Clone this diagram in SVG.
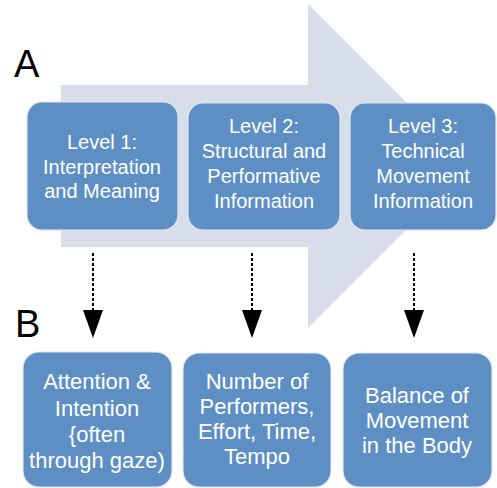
<svg xmlns="http://www.w3.org/2000/svg" width="497" height="488" viewBox="0 0 497 488">
<defs>
<style>
.box{fill:#5e8fc4;stroke:#dfe8f2;stroke-width:1.2}
.t{font-family:"Liberation Sans",Arial,sans-serif;fill:#ffffff;text-anchor:middle}
.top{font-size:20px}
.bot{font-size:22px}
.lbl{font-family:"Liberation Sans",Arial,sans-serif;font-size:38px;fill:#000}
.conn{stroke:#000;stroke-width:2;stroke-dasharray:3 2;fill:none}
</style>
<marker id="ah" viewBox="0 0 28 20" markerWidth="28" markerHeight="20" refX="0" refY="10" orient="auto" markerUnits="userSpaceOnUse">
<path d="M0 0 L28 10 L0 20 Z" fill="#000"/>
</marker>
</defs>
<rect width="497" height="488" fill="#fff"/>
<polygon id="bigarrow" points="61,85 308,85 308,4 470,166 308,328 308,247 61,247" fill="#d8dee9"/>
<text class="lbl" x="14" y="77">A</text>
<text class="lbl" x="15" y="337">B</text>
<g id="level1">
<rect class="box" x="27" y="102" width="151" height="128" rx="15"/>
<text class="t top" x="102" y="149">Level 1:</text>
<text class="t top" x="102" y="174">Interpretation</text>
<text class="t top" x="102" y="198">and Meaning</text>
</g>
<g id="level2">
<rect class="box" x="188" y="103" width="152" height="127" rx="15"/>
<text class="t top" x="264" y="133">Level 2:</text>
<text class="t top" x="264" y="158">Structural and</text>
<text class="t top" x="264" y="183">Performative</text>
<text class="t top" x="264" y="208">Information</text>
</g>
<g id="level3">
<rect class="box" x="350" y="103" width="146" height="127" rx="15"/>
<text class="t top" x="423" y="133">Level 3:</text>
<text class="t top" x="423" y="158">Technical</text>
<text class="t top" x="423" y="183">Movement</text>
<text class="t top" x="423" y="208">Information</text>
</g>
<g id="b1">
<rect class="box" x="23" y="352" width="149" height="135" rx="16"/>
<text class="t bot" x="97" y="389">Attention &amp;</text>
<text class="t bot" x="97" y="416">Intention</text>
<text class="t bot" x="97" y="442">{often</text>
<text class="t bot" x="97" y="468">through gaze)</text>
</g>
<g id="b2">
<rect class="box" x="183" y="353" width="148" height="134" rx="16"/>
<text class="t bot" x="257" y="389">Number of</text>
<text class="t bot" x="257" y="414">Performers,</text>
<text class="t bot" x="257" y="439">Effort, Time,</text>
<text class="t bot" x="257" y="464">Tempo</text>
</g>
<g id="b3">
<rect class="box" x="343" y="353" width="149" height="134" rx="16"/>
<text class="t bot" x="417" y="403">Balance of</text>
<text class="t bot" x="417" y="428">Movement</text>
<text class="t bot" x="417" y="453">in the Body</text>
</g>
<g id="connectors">
<line class="conn" x1="93" y1="253" x2="93" y2="310" marker-end="url(#ah)"/>
<line class="conn" x1="252" y1="253" x2="252" y2="310" marker-end="url(#ah)"/>
<line class="conn" x1="414" y1="253" x2="414" y2="310" marker-end="url(#ah)"/>
</g>
</svg>
